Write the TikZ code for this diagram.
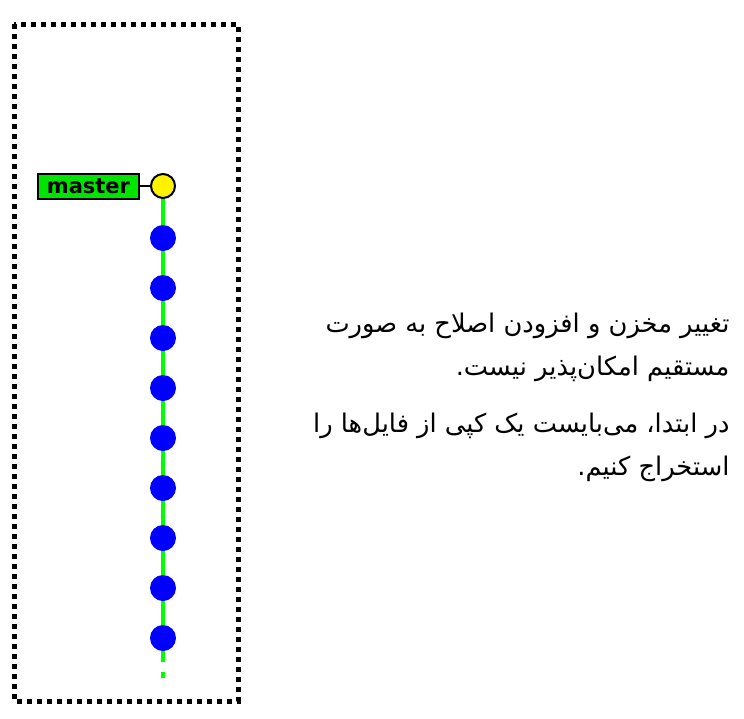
\documentclass[tikz,border=0pt]{standalone}
\usepackage{fontspec}
\setmainfont{DejaVu Sans}
\newfontfamily\arabicfont[Script=Arabic]{DejaVu Sans}
\TeXXeTstate=1
\begin{document}
\begin{tikzpicture}[x=1pt,y=-1pt,
  commit/.style={circle,fill=blue,minimum size=26pt,inner sep=0pt},
  headc/.style={circle,draw=black,line width=2pt,fill=yellow,minimum size=24pt,inner sep=0pt},
  branch/.style={draw=black,line width=2pt,fill=green!90!black,inner sep=0pt,minimum width=101pt,minimum height=25pt,font=\bfseries\fontsize{21}{21}\selectfont},
  edge/.style={draw=green,line width=4.5pt},
  frame/.style={draw=black,line width=5pt,dash pattern=on 5pt off 5pt}]
\useasboundingbox (0,0) rectangle (744,718);
\draw[frame] (14,24) rectangle (238,701);
\coordinate (end1) at (163,662);
\coordinate (d1) at (163,672);
\coordinate (d2) at (163,678);
\draw[edge] (163,186) -- (end1);
\draw[edge] (d1) -- (d2);
\node[headc] (h) at (163,186) {};
\foreach \i in {1,...,9} {
  \node[commit] (c\i) at (163,188+50*\i) {};
}
\node[branch] (m) at (88.5,186) {master};
\draw[black,line width=2pt] (m.east) -- (h.west);
\node[anchor=east,align=right,font=\arabicfont\fontsize{25.7}{43}\selectfont] (txt) at (733,397)
{\beginR تغییر مخزن و افزودن اصلاح به صورت\endR\\
\beginR مستقیم امکان‌پذیر نیست.\endR\\[14pt]
\beginR در ابتدا، می‌بایست یک کپی از فایل‌ها را\endR\\
\beginR استخراج کنیم.\endR};
\end{tikzpicture}
\end{document}
